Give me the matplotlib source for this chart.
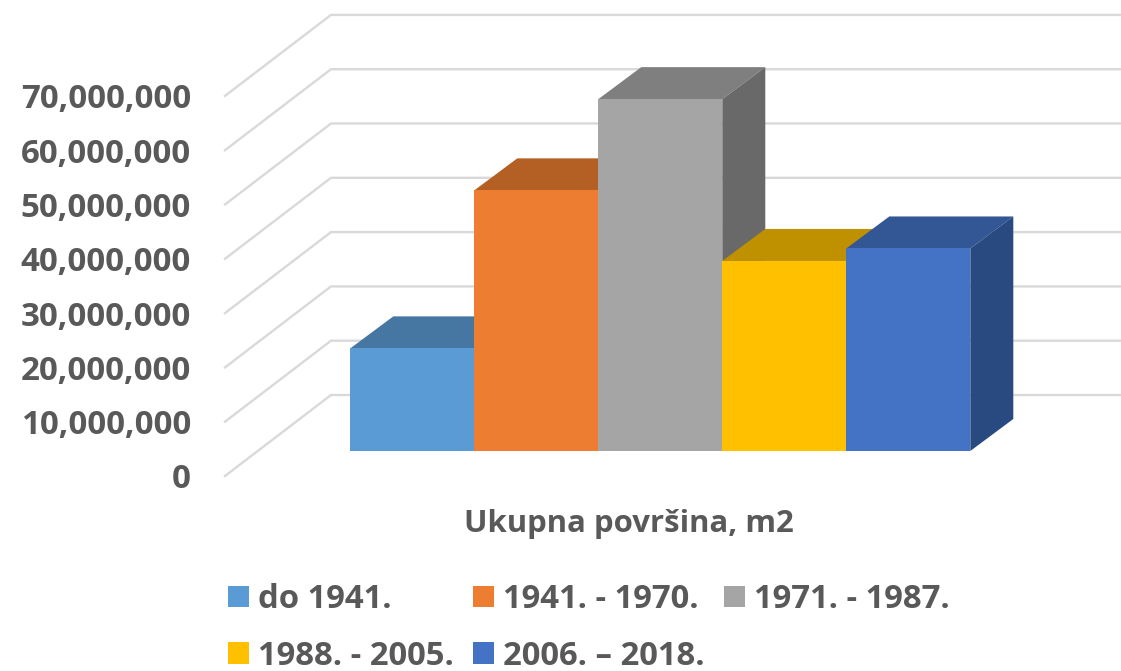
import matplotlib
matplotlib.use('Agg')
import matplotlib.pyplot as plt
from matplotlib.patches import Polygon, Patch

# Data
periods = ['do 1941.', '1941. - 1970.', '1971. - 1987.', '1988. - 2005.', '2006. – 2018.']
values = [18900000, 48000000, 64800000, 35000000, 37300000]
front_colors = ['#5B9BD5', '#ED7D31', '#A5A5A5', '#FFC000', '#4472C4']
top_colors = ['#4677A3', '#B45F24', '#7F7F7F', '#BF9000', '#335694']
side_colors = ['#3E6A92', '#9E5320', '#696969', '#A67D00', '#294A80']
ticks = [0, 10000000, 20000000, 30000000, 40000000, 50000000, 60000000, 70000000]
xlabel = 'Ukupna površina, m2'

W, H = 1121, 671
TXT = '#595959'
plt.rcParams['font.family'] = ['Open Sans', 'DejaVu Sans']
plt.rcParams['font.weight'] = 'bold'

# pixel scales of the picture
px_cat = 124.0
px_val = 54.3 / 1e7
x0_px = 412.3
y0_px = 476.0
ax_l, ax_b = 225, 500

fig = plt.figure(figsize=(W / 100, H / 100), dpi=100)
ax = fig.add_axes([ax_l / W, (H - ax_b) / H, (W - ax_l) / W, ax_b / H])
ax.set_xlim((ax_l - x0_px) / px_cat, (W - x0_px) / px_cat)
ax.set_ylim((y0_px - ax_b) / px_val, y0_px / px_val)

# back wall and floor lines
wall_dx = 106 / px_cat
wall_dy = 81 / px_val
x_front = ax.get_xlim()[0]
for t in ticks:
    ax.plot([x_front, x_front + wall_dx, ax.get_xlim()[1]],
            [t, t + wall_dy, t + wall_dy],
            color='#D9D9D9', lw=1.7, solid_joinstyle='miter', zorder=1, clip_on=False)

# 3d bars, left to right so the next front hides the previous side
base = 25 / px_val
dx = 43 / px_cat
dy = 32 / px_val
w = 1.0
for i, v in enumerate(values):
    l, r = i - w / 2, i + w / 2
    top = base + v
    ax.add_patch(Polygon([(l, top), (r, top), (r + dx, top + dy), (l + dx, top + dy)],
                         facecolor=top_colors[i], edgecolor='none', zorder=2 + i))
    ax.add_patch(Polygon([(r, base), (r + dx, base + dy), (r + dx, top + dy), (r, top)],
                         facecolor=side_colors[i], edgecolor='none', zorder=2 + i))
    ax.bar(i, v, width=w, bottom=base, color=front_colors[i], zorder=2 + i)

ax.set_yticks(ticks)
ax.set_yticklabels(['{:,}'.format(t) for t in ticks], fontsize=23.8, color=TXT, fontweight='bold')
ax.tick_params(axis='y', length=0, pad=24.5)
ax.set_xticks([])
for s in ax.spines.values():
    s.set_visible(False)
ax.patch.set_alpha(0)

fig.text(628.5 / W, 1 - 524 / H, xlabel, fontsize=22.4, color=TXT, fontweight='bold', ha='center', va='center')

# legend fills column by column
order = [0, 3, 1, 4, 2]
handles = [Patch(facecolor=front_colors[i], label=periods[i]) for i in order]
fig.legend(handles=handles, ncols=3, loc='upper left', bbox_to_anchor=(228 / W, 1 - 583 / H),
           frameon=False, fontsize=23.7, labelcolor=TXT, handlelength=0.64, handleheight=0.64,
           handletextpad=0.27, columnspacing=0.58, labelspacing=0.72, borderpad=0, borderaxespad=0)

fig.savefig('out.png', dpi=100)
